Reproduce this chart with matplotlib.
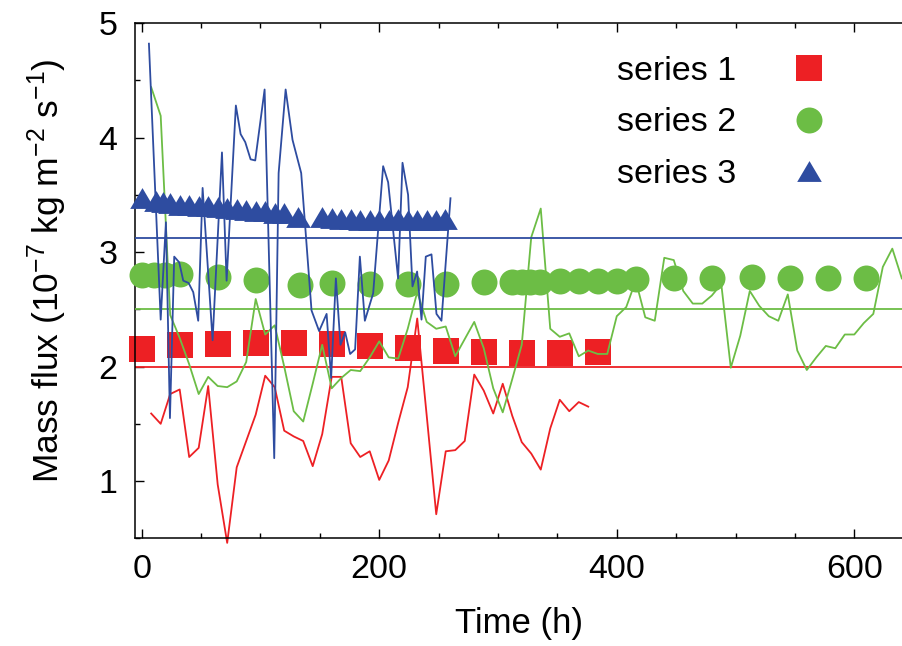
import matplotlib.pyplot as plt
import numpy as np
from matplotlib.path import Path
from matplotlib.ticker import MultipleLocator

plt.rcParams['font.family'] = ['Liberation Sans', 'DejaVu Sans']
plt.rcParams['mathtext.default'] = 'regular'
plt.rcParams['font.size'] = 24

RED = '#ed2024'
GREEN = '#6cbd45'
BLUE = '#2e4ca0'

# series 1 : averaged points (squares) and raw curve
s1_t = [0, 32, 64, 96, 128, 160, 192, 224, 256, 288, 320, 352, 384]
s1_avg = [2.15, 2.19, 2.20, 2.21, 2.21, 2.20, 2.18, 2.16, 2.14, 2.13, 2.12, 2.12, 2.13]
s1_raw_t = [8, 16, 24, 32, 40, 48, 56, 64, 72, 80, 88, 96, 104, 112, 120, 128,
            136, 144, 152, 160, 168, 176, 184, 192, 200, 208, 216, 224, 232, 240,
            248, 256, 264, 272, 280, 288, 296, 304, 312, 320, 328, 336, 344, 352,
            360, 368, 376]
s1_raw = [1.59, 1.50, 1.76, 1.80, 1.21, 1.29, 1.83, 0.97, 0.46, 1.12, 1.35, 1.58,
          1.92, 1.82, 1.44, 1.39, 1.35, 1.13, 1.41, 1.91, 1.91, 1.33, 1.21, 1.26,
          1.01, 1.18, 1.51, 1.82, 2.42, 1.57, 0.71, 1.26, 1.27, 1.35, 1.93, 1.79,
          1.59, 1.85, 1.57, 1.34, 1.24, 1.10, 1.46, 1.71, 1.61, 1.69, 1.65]
s1_mean = 2.0

# series 2
s2_t = [0, 10, 20, 32, 64, 96, 133, 160, 192, 224, 256, 288, 312, 320, 327, 335,
        352, 368, 384, 400, 416, 448, 480, 514, 546, 578, 610]
s2_avg = [2.80, 2.80, 2.80, 2.81, 2.78, 2.76, 2.71, 2.73, 2.725, 2.725, 2.72, 2.735,
          2.74, 2.74, 2.74, 2.74, 2.75, 2.75, 2.75, 2.75, 2.765, 2.77, 2.775, 2.78,
          2.775, 2.775, 2.775]
s2_raw_t = [8, 16, 24, 32, 40, 48, 56, 64, 72, 80, 88, 96, 104, 112, 120, 128,
            136, 144, 152, 160, 168, 176, 184, 192, 200, 208, 216, 224, 232, 240,
            248, 256, 264, 272, 280, 288, 296, 304, 312, 320, 328, 336, 344, 352,
            360, 368, 376, 384, 392, 400, 408, 416, 424, 432, 440, 448, 456, 464,
            472, 480, 488, 496, 504, 512, 520, 528, 536, 544, 552, 560, 568, 576,
            584, 592, 600, 608, 616, 624, 632, 640]
s2_raw = [4.44, 4.19, 2.45, 2.25, 2.02, 1.76, 1.91, 1.83, 1.82, 1.87, 2.04, 2.59,
          2.28, 2.36, 2.00, 1.61, 1.52, 1.85, 2.19, 1.81, 1.90, 1.97, 1.96, 2.08,
          2.22, 2.08, 2.07, 2.33, 2.65, 2.39, 2.33, 2.35, 2.09, 2.24, 2.39, 2.16,
          1.81, 1.60, 1.89, 2.19, 3.13, 3.38, 2.33, 2.26, 2.29, 2.09, 2.14, 2.11,
          2.11, 2.44, 2.52, 2.75, 2.43, 2.40, 2.95, 2.93, 2.66, 2.55, 2.55, 2.62,
          2.72, 1.99, 2.27, 2.66, 2.53, 2.44, 2.40, 2.63, 2.14, 1.97, 2.08, 2.18,
          2.16, 2.28, 2.28, 2.38, 2.46, 2.87, 3.03, 2.77]
s2_mean = 2.5

# series 3
s3_t = [0, 12, 18, 24, 32, 40, 48, 56, 64, 72, 80, 88, 96, 104, 112, 120, 132,
        152, 160, 168, 176, 184, 192, 200, 208, 216, 224, 232, 240, 248, 255]
s3_avg = [3.47, 3.45, 3.435, 3.426, 3.414, 3.414, 3.405, 3.40, 3.392, 3.383, 3.374,
          3.368, 3.362, 3.356, 3.345, 3.339, 3.304, 3.304, 3.298, 3.292, 3.289,
          3.284, 3.281, 3.281, 3.284, 3.286, 3.281, 3.284, 3.284, 3.284, 3.286]
s3_raw_t = [6.1, 16.0, 20.4, 23.8, 27.4, 31.6, 35.0, 39.5, 43.4, 47.6, 51.3, 59.7,
            67.6, 71.5, 79.3, 83.3, 87.2, 91.7, 95.6, 103.5, 111.6, 115.3, 121.2,
            127.0, 134.3, 143.0, 149.4, 155.7, 159.5, 163.5, 167.4, 171.3, 175.5,
            179.7, 183.7, 187.9, 194.9, 203.3, 207.5, 215.9, 219.6, 224.3, 228.0,
            231.9, 235.6, 239.2, 244.0, 248.2, 252.4, 260.0]
s3_raw = [4.82, 2.41, 3.26, 1.55, 2.96, 2.91, 2.75, 2.73, 2.65, 2.40, 3.56, 2.23,
          3.87, 2.75, 4.28, 4.03, 3.96, 3.81, 3.80, 4.42, 1.20, 3.69, 4.42, 3.98,
          3.69, 2.49, 2.31, 2.46, 1.90, 2.77, 2.19, 2.30, 2.11, 2.15, 2.96, 2.40,
          2.64, 3.75, 3.61, 2.77, 3.78, 3.50, 2.70, 2.83, 2.41, 2.96, 2.98, 2.46,
          2.40, 3.47]
s3_mean = 3.12

labels = ['series 1', 'series 2', 'series 3']

tri = Path([(-1.18, -1), (1.18, -1), (0, 1), (-1.18, -1)],
           [Path.MOVETO, Path.LINETO, Path.LINETO, Path.CLOSEPOLY])

fig = plt.figure(figsize=(9.03, 6.46), dpi=100)
ax = fig.add_axes([0.1498, 0.1667, 0.8502, 0.7976])

lw = 1.3
# series 1
ax.plot(s1_raw_t, s1_raw, color=RED, lw=lw, clip_on=False, zorder=2)
ax.axhline(s1_mean, color=RED, lw=lw, zorder=2)
h1, = ax.plot(s1_t, s1_avg, 's', color=RED, ms=18.7, mew=0, clip_on=False,
              zorder=2, label=labels[0])
# series 2
ax.plot(s2_raw_t, s2_raw, color=GREEN, lw=lw, clip_on=False, zorder=3)
ax.axhline(s2_mean, color=GREEN, lw=lw, zorder=3)
h2, = ax.plot(s2_t, s2_avg, 'o', color=GREEN, ms=18.7, mew=0, clip_on=False,
              zorder=3, label=labels[1])
# series 3
h3, = ax.plot(s3_t, s3_avg, marker=tri, ls='none', color=BLUE, ms=17.7, mew=0,
              clip_on=False, zorder=4, label=labels[2])
ax.plot(s3_raw_t, s3_raw, color=BLUE, lw=lw, clip_on=False, zorder=4)
ax.axhline(s3_mean, color=BLUE, lw=lw, zorder=4)

ax.set_xlim(-5.4, 641)
ax.set_ylim(0.5, 5)
ax.set_xticks([0, 200, 400, 600])
ax.set_yticks([1, 2, 3, 4, 5])
ax.xaxis.set_minor_locator(MultipleLocator(50))
ax.yaxis.set_minor_locator(MultipleLocator(0.5))
ax.tick_params(which='both', direction='in', top=True, right=False, width=1.0)
ax.tick_params(which='major', length=6.5)
ax.tick_params(which='minor', length=3.5)
ax.tick_params(axis='x', which='major', pad=11, labelsize=24.5)
ax.tick_params(axis='y', which='major', pad=13, labelsize=24.5)
for side in ['left', 'bottom', 'top']:
    ax.spines[side].set_linewidth(1.1)
ax.spines['right'].set_visible(False)

ax.set_xlabel('Time (h)', labelpad=16, fontsize=25)
ax.set_ylabel(r'Mass flux (10$^{-7}$ kg m$^{-2}$ s$^{-1}$)', fontsize=25.5)
ax.yaxis.set_label_coords(-0.0864, 0.52)

ax.legend(handles=[h1, h2, h3], loc='upper left', bbox_to_anchor=(0.6275, 0.936),
          markerfirst=False, frameon=False, borderpad=0, borderaxespad=0,
          handletextpad=1.15, labelspacing=0.6, numpoints=1, handlelength=2.0,
          fontsize=24.5)

fig.savefig('out.png', dpi=100)
